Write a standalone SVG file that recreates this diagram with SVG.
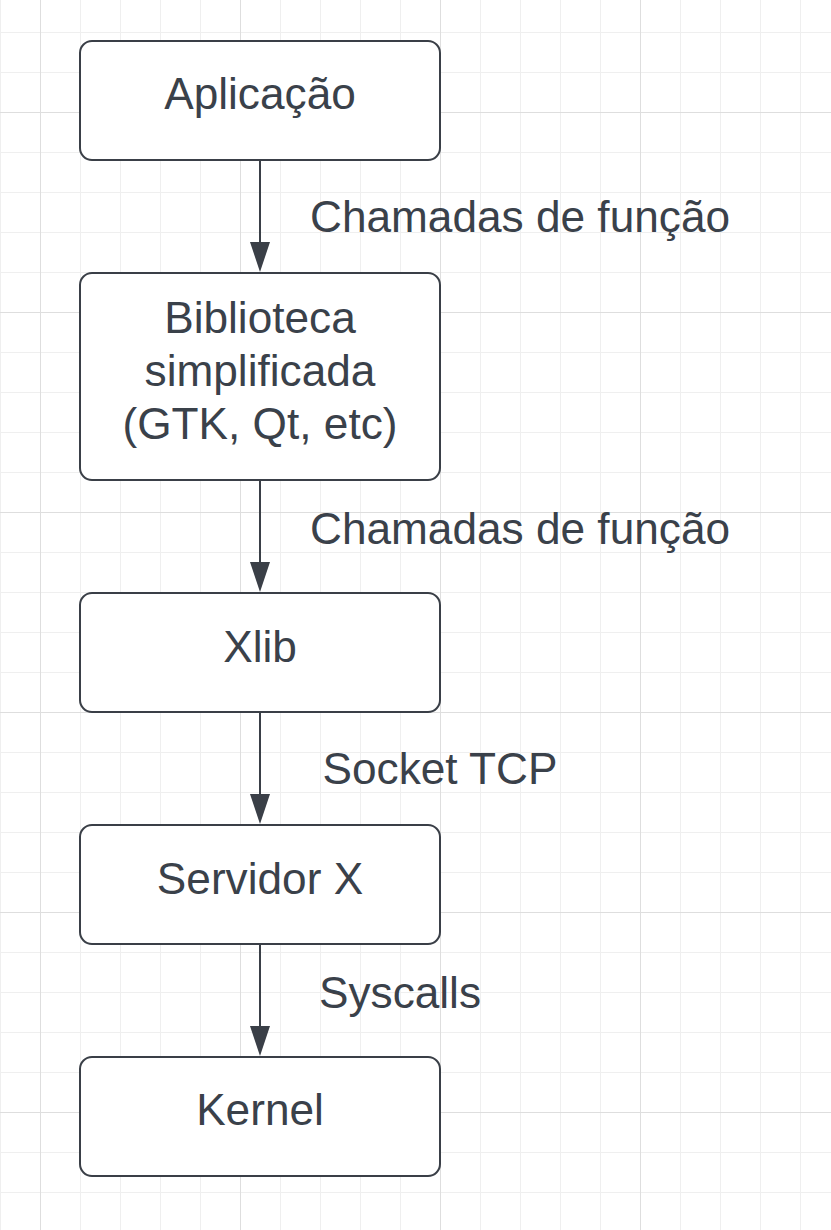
<svg xmlns="http://www.w3.org/2000/svg" width="831" height="1230" viewBox="0 0 831 1230">
<style>
.minor{stroke:#efefef;stroke-width:1}
.major{stroke:#dedede;stroke-width:1}
.box{fill:#ffffff;stroke:#3a3f47;stroke-width:2}
.lbl{font-family:"Liberation Sans",Arial,sans-serif;font-size:44.2px;fill:#3a414a;text-anchor:middle}
.edge{stroke:#3a3f47;stroke-width:2;fill:none}
</style>
<defs>
<pattern id="gridMinor" x="0" y="32" width="40" height="40" patternUnits="userSpaceOnUse">
<path d="M0.5,0 V40 M0,0.5 H40" class="minor"/>
</pattern>
<pattern id="gridMajor" x="40" y="112" width="200" height="200" patternUnits="userSpaceOnUse">
<path d="M0.5,0 V200 M0,0.5 H200" class="major"/>
</pattern>
<marker id="arrow" viewBox="0 0 30 20" refX="0" refY="10" markerWidth="30" markerHeight="20" markerUnits="userSpaceOnUse" orient="auto">
<path d="M0,0 L30,10 L0,20 Z" fill="#3a3f47"/>
</marker>
</defs>
<rect width="831" height="1230" fill="#ffffff"/>
<rect width="831" height="1230" fill="url(#gridMinor)"/>
<rect width="831" height="1230" fill="url(#gridMajor)"/>
<g id="connectors">
<path class="edge" d="M260,161 V242" marker-end="url(#arrow)"/>
<path class="edge" d="M260,481 V562" marker-end="url(#arrow)"/>
<path class="edge" d="M260,713 V794" marker-end="url(#arrow)"/>
<path class="edge" d="M260,945 V1026" marker-end="url(#arrow)"/>
<text class="lbl" x="520" y="232">Chamadas de função</text>
<text class="lbl" x="520" y="544">Chamadas de função</text>
<text class="lbl" x="440" y="784">Socket TCP</text>
<text class="lbl" x="400" y="1008">Syscalls</text>
</g>
<g id="aplicacao">
<rect class="box" x="80" y="41" width="360" height="119" rx="12"/>
<text class="lbl" x="260" y="109">Aplicação</text>
</g>
<g id="biblioteca">
<rect class="box" x="80" y="273" width="360" height="207" rx="12"/>
<text class="lbl" x="260" y="333">Biblioteca</text>
<text class="lbl" x="260" y="386">simplificada</text>
<text class="lbl" x="260" y="439">(GTK, Qt, etc)</text>
</g>
<g id="xlib">
<rect class="box" x="80" y="593" width="360" height="119" rx="12"/>
<text class="lbl" x="260" y="662">Xlib</text>
</g>
<g id="servidor">
<rect class="box" x="80" y="825" width="360" height="119" rx="12"/>
<text class="lbl" x="260" y="894">Servidor X</text>
</g>
<g id="kernel">
<rect class="box" x="80" y="1057" width="360" height="119" rx="12"/>
<text class="lbl" x="260" y="1125">Kernel</text>
</g>
</svg>
